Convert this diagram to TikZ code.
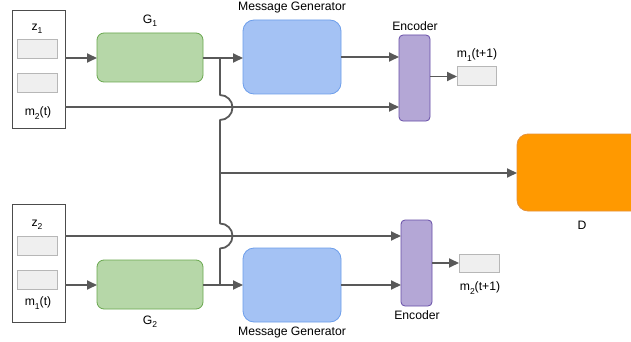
\documentclass[tikz,border=0pt]{standalone}
\usepackage{fontspec}
\setmainfont{Liberation Sans}
\usetikzlibrary{arrows.meta,positioning,calc}
\definecolor{gfill}{HTML}{B6D7A8}\definecolor{gdraw}{HTML}{6AA84F}
\definecolor{bfill}{HTML}{A4C2F4}\definecolor{bdraw}{HTML}{6D9EEB}
\definecolor{pfill}{HTML}{B4A7D6}\definecolor{pdraw}{HTML}{674EA7}
\definecolor{sfill}{HTML}{EFEFEF}\definecolor{sdraw}{HTML}{B7B7B7}
\definecolor{ofill}{HTML}{FF9900}\definecolor{odraw}{HTML}{E69138}
\definecolor{line}{HTML}{595959}
\newcommand{\lowsub}[1]{\raisebox{-0.5ex}{\fontsize{8.5}{9}\selectfont #1}}
\tikzset{
  x=1pt,y=-1pt,
  box/.style={draw,inner sep=0pt,outer sep=0pt,anchor=north west},
  inbox/.style={box,draw=black!70,fill=white,line width=0.8pt},
  slot/.style={box,fill=sfill,draw=sdraw,line width=1pt},
  gbox/.style={box,fill=gfill,draw=gdraw,line width=0.8pt,rounded corners=7pt},
  mbox/.style={box,fill=bfill,draw=bdraw,line width=0.8pt,rounded corners=11pt},
  ebox/.style={box,fill=pfill,draw=pdraw,line width=0.8pt,rounded corners=4pt},
  dbox/.style={box,fill=ofill,draw=odraw,line width=0.8pt,rounded corners=11pt},
  lbl/.style={font=\fontsize{12.2}{14}\selectfont,inner sep=0pt},
  conn/.style={draw=line,line width=1.8pt},
  arr/.style={conn,-{Triangle[length=10pt,width=9pt]}},
}
\begin{document}
\begin{tikzpicture}
\clip (0,0) rectangle (631,342);
\fill[white] (0,0) rectangle (631,342);
% left input boxes
\node[inbox,minimum width=53pt,minimum height=118pt] (lb1) at (12,10) {};
\node[slot,minimum width=40pt,minimum height=19pt] (s11) at (17,40) {};
\node[slot,minimum width=40pt,minimum height=19pt] (s12) at (17,74) {};
\node[lbl] (z1) at (37,29) {z\lowsub{1}};
\node[lbl] (m2t) at (38,113) {m\lowsub{2}(t)};
\node[inbox,minimum width=53pt,minimum height=118pt] (lb2) at (12,204) {};
\node[slot,minimum width=40pt,minimum height=19pt] (s21) at (17,236) {};
\node[slot,minimum width=40pt,minimum height=19pt] (s22) at (17,270) {};
\node[lbl] (z2) at (37,225) {z\lowsub{2}};
\node[lbl] (m1t) at (38,303) {m\lowsub{1}(t)};
% generators
\node[gbox,minimum width=106pt,minimum height=49pt] (g1) at (97,33) {};
\node[lbl] (g1l) at (150,21) {G\lowsub{1}};
\node[gbox,minimum width=106pt,minimum height=49pt] (g2) at (97,260) {};
\node[lbl] (g2l) at (150,322) {G\lowsub{2}};
% message generators
\node[mbox,minimum width=98pt,minimum height=74pt] (mg1) at (243,20) {};
\node[lbl] (mg1l) at (292,8) {Message Generator};
\node[mbox,minimum width=98pt,minimum height=74pt] (mg2) at (243,248) {};
\node[lbl] (mg2l) at (292,333) {Message Generator};
% encoders
\node[ebox,minimum width=31pt,minimum height=86pt] (e1) at (399,35) {};
\node[lbl] (e1l) at (415,26) {Encoder};
\node[ebox,minimum width=31pt,minimum height=86pt] (e2) at (401,220) {};
\node[lbl] (e2l) at (417,315) {Encoder};
% outputs
\node[slot,minimum width=39pt,minimum height=19pt] (o1) at (457,67) {};
\node[lbl] (o1l) at (477,55) {m\lowsub{1}(t+1)};
\node[slot,minimum width=40pt,minimum height=18pt] (o2) at (459,254) {};
\node[lbl] (o2l) at (480,288) {m\lowsub{2}(t+1)};
% discriminator
\node[dbox,minimum width=150pt,minimum height=77pt] (d) at (517,134) {};
\node[lbl] (dl) at (582,225) {D};
% junctions
\coordinate (j1) at (220,58);
\coordinate (jm) at (220,173);
\coordinate (j2) at (220,285);
% connectors
\draw[arr] (lb1.east |- 0,58) -- (g1.west |- 0,58);
\draw[conn] (g1.east |- 0,58) -- (j1);
\draw[arr] (j1) -- (mg1.west |- j1);
\draw[arr] (mg1.east |- 0,57) -- (e1.west |- 0,57);
\draw[arr] (lb1.east |- 0,107) -- (e1.west |- 0,107);
\draw[arr] (e1.east |- o1.west) -- (o1.west);
\draw[arr] (lb2.east |- 0,285) -- (g2.west |- 0,285);
\draw[conn] (g2.east |- 0,285) -- (j2);
\draw[arr] (j2) -- (mg2.west |- j2);
\draw[arr] (mg2.east |- 0,285) -- (e2.west |- 0,285);
\draw[arr] (lb2.east |- 0,236) -- (e2.west |- 0,236);
\draw[arr] (e2.east |- o2.west) -- (o2.west);
\draw[arr] (jm) -- (d.west |- jm);
\draw[conn,line join=round] (j1) -- (220,95) arc[start angle=-90,end angle=90,radius=12.5] -- (220,223.5)
  arc[start angle=-90,end angle=90,radius=12.5] -- (j2);
\end{tikzpicture}
\end{document}
